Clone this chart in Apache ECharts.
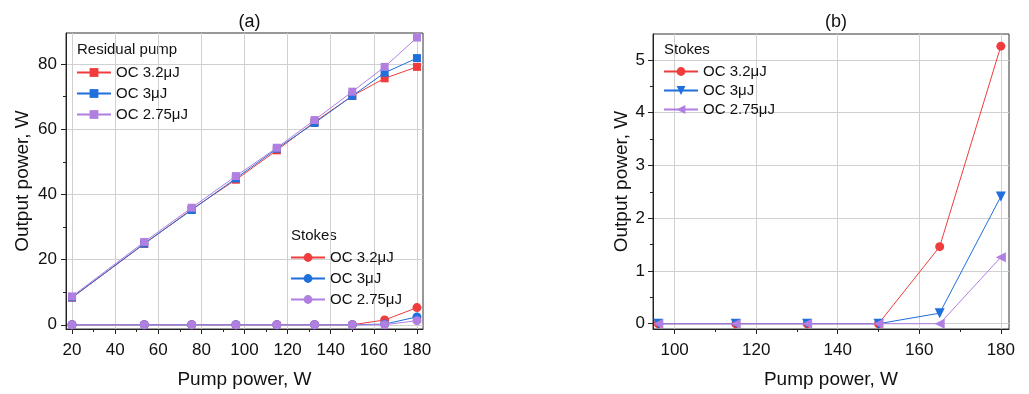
<!DOCTYPE html>
<html>
<head>
<meta charset="utf-8">
<script src="https://cdn.jsdelivr.net/npm/echarts@6/dist/echarts.min.js"></script>
<style>
html,body{margin:0;padding:0;background:#fff;}
#c{width:1029px;height:394px;}
</style>
</head>
<body>
<div id="c"></div>
<script>
// ---- data ----
const pumpX = [20, 53.5, 75.5, 96, 115, 132.5, 150, 165, 180];
const residual32 = [8.3, 24.8, 35.4, 44.5, 53.5, 62.2, 70.2, 75.6, 79.1];
const residual3 = [8.4, 24.9, 35.2, 44.9, 54.0, 61.9, 70.2, 77.3, 81.8];
const residual275 = [8.7, 25.4, 35.9, 45.6, 54.3, 62.8, 71.5, 79.1, 88.1];
const stokes32 = [0, 0, 0, 0, 0, 0, 0, 1.46, 5.26];
const stokes3 = [0, 0, 0, 0, 0, 0, 0, 0.2, 2.41];
const stokes275 = [0, 0, 0, 0, 0, 0, 0, 0, 1.26];
const pumpXb = [96, 115, 132.5, 150, 165, 180];
const stokesB32 = [0, 0, 0, 0, 1.46, 5.26];
const stokesB3 = [0, 0, 0, 0, 0.2, 2.41];
const stokesB275 = [0, 0, 0, 0, 0, 1.26];
const seriesLabels = ['OC 3.2\u03bcJ', 'OC 3\u03bcJ', 'OC 2.75\u03bcJ'];
const panelTitles = ['(a)', '(b)'];
const legendHeaders = ['Residual pump', 'Stokes'];
const xTicksA = [20, 40, 60, 80, 100, 120, 140, 160, 180];
const xMinorA = [30, 50, 70, 90, 110, 130, 150, 170];
const yTicksA = [0, 20, 40, 60, 80];
const yMinorA = [10, 30, 50, 70];
const xTicksB = [100, 120, 140, 160, 180];
const xMinorB = [110, 130, 150, 170];
const yTicksB = [0, 1, 2, 3, 4, 5];
const yMinorB = [0.5, 1.5, 2.5, 3.5, 4.5];
const xAxisTitle = 'Pump power, W';
const yAxisTitle = 'Output power, W';

const colors = ['#f03c3c', '#1f6fdc', '#b07fe0'];
const FONT = 'Liberation Sans, Arial, sans-serif';

function zip(xs, ys) { return xs.map((x, i) => [x, ys[i]]); }

const nameMap = {
  rp0: seriesLabels[0], rp1: seriesLabels[1], rp2: seriesLabels[2],
  sa0: seriesLabels[0], sa1: seriesLabels[1], sa2: seriesLabels[2],
  sb0: seriesLabels[0], sb1: seriesLabels[1], sb2: seriesLabels[2]
};

function mainX(grid, min, max, ticks) {
  return {
    gridIndex: grid, type: 'value', min: min, max: max, position: 'bottom',
    name: xAxisTitle, nameLocation: 'middle', nameGap: 41,
    nameTextStyle: { fontSize: 19, fontFamily: FONT, color: '#111' },
    axisLine: { show: true, onZero: false, lineStyle: { color: '#222', width: 1 } },
    axisTick: { show: true, inside: false, length: 5, customValues: ticks, lineStyle: { color: '#222' } },
    axisLabel: { show: true, customValues: ticks, margin: 13, fontSize: 17, fontFamily: FONT, color: '#111' },
    splitLine: { show: true, lineStyle: { color: '#d0d0d0', width: 1 } },
    minorTick: { show: false }
  };
}
function minorX(grid, min, max, ticks) {
  return {
    gridIndex: grid, type: 'value', min: min, max: max, position: 'bottom',
    axisLine: { show: false, onZero: false }, axisLabel: { show: false }, splitLine: { show: false },
    axisTick: { show: true, length: 3, customValues: ticks, lineStyle: { color: '#222' } }
  };
}
function mainY(grid, min, max, ticks, gap, margin) {
  return {
    gridIndex: grid, type: 'value', min: min, max: max, position: 'left',
    name: yAxisTitle, nameLocation: 'middle', nameGap: gap,
    nameTextStyle: { fontSize: 19, fontFamily: FONT, color: '#111' },
    axisLine: { show: true, onZero: false, lineStyle: { color: '#222', width: 1 } },
    axisTick: { show: true, length: 5, customValues: ticks, lineStyle: { color: '#222' } },
    axisLabel: { show: true, customValues: ticks, margin: margin, fontSize: 17, fontFamily: FONT, color: '#111' },
    splitLine: { show: true, lineStyle: { color: '#d0d0d0', width: 1 } }
  };
}
function minorY(grid, min, max, ticks) {
  return {
    gridIndex: grid, type: 'value', min: min, max: max, position: 'left',
    axisLine: { show: false, onZero: false }, axisLabel: { show: false }, splitLine: { show: false },
    axisTick: { show: true, length: 3, customValues: ticks, lineStyle: { color: '#222' } }
  };
}
function lineSeries(name, xi, yi, data, color, symbol, size, rotate, z) {
  return {
    name: name, type: 'line', xAxisIndex: xi, yAxisIndex: yi, data: data,
    symbol: symbol, symbolSize: size, symbolRotate: rotate || 0, clip: false,
    lineStyle: { color: color, width: 1 }, itemStyle: { color: color, borderWidth: 0 },
    z: z, animation: false
  };
}
function legend(names, left, top, gap) {
  return {
    data: names, left: left, top: top, orient: 'vertical', padding: 0,
    itemWidth: 34, itemHeight: 11, itemGap: gap, selectedMode: false,
    formatter: n => nameMap[n],
    textStyle: { fontSize: 15, fontFamily: FONT, color: '#111' }
  };
}

const chart = echarts.init(document.getElementById('c'), null, { renderer: 'canvas' });
chart.setOption({
  backgroundColor: '#fff',
  animation: false,
  title: [
    { text: panelTitles[0], left: 244.5, top: 8, textAlign: 'center', textStyle: { fontSize: 18, fontWeight: 'normal', fontFamily: FONT, color: '#111' } },
    { text: panelTitles[1], left: 831, top: 8, textAlign: 'center', textStyle: { fontSize: 18, fontWeight: 'normal', fontFamily: FONT, color: '#111' } }
  ],
  grid: [
    { left: 66, right: 606, top: 33, bottom: 63, show: true, borderColor: '#333', borderWidth: 1, containLabel: false },
    { left: 653, right: 20, top: 34, bottom: 63, show: true, borderColor: '#333', borderWidth: 1, containLabel: false }
  ],
  xAxis: [
    mainX(0, 17.2, 182.8, xTicksA),
    minorX(0, 17.2, 182.8, xMinorA),
    mainX(1, 94.7, 182, xTicksB),
    minorX(1, 94.7, 182, xMinorB)
  ],
  yAxis: [
    mainY(0, -1.3, 89.5, yTicksA, 34, 9),
    minorY(0, -1.3, 89.5, yMinorA),
    mainY(1, -0.1, 5.49, yTicksB, 22, 8),
    minorY(1, -0.1, 5.49, yMinorB)
  ],
  legend: [
    legend(['rp0', 'rp1', 'rp2'], 76, 65, 6),
    legend(['sa0', 'sa1', 'sa2'], 290, 250, 6),
    legend(['sb0', 'sb1', 'sb2'], 663, 64, 4)
  ],
  graphic: [
    { type: 'text', left: 77, top: 42, style: { text: legendHeaders[0], fontSize: 15, fontFamily: FONT, fill: '#111' } },
    { type: 'text', left: 291, top: 228, style: { text: legendHeaders[1], fontSize: 15, fontFamily: FONT, fill: '#111' } },
    { type: 'text', left: 664, top: 42, style: { text: legendHeaders[1], fontSize: 15, fontFamily: FONT, fill: '#111' } }
  ],
  series: [
    lineSeries('rp0', 0, 0, zip(pumpX, residual32), colors[0], 'rect', 8, 0, 2),
    lineSeries('rp1', 0, 0, zip(pumpX, residual3), colors[1], 'rect', 8, 0, 3),
    lineSeries('rp2', 0, 0, zip(pumpX, residual275), colors[2], 'rect', 8, 0, 4),
    lineSeries('sa0', 0, 0, zip(pumpX, stokes32), colors[0], 'circle', 9, 0, 5),
    lineSeries('sa1', 0, 0, zip(pumpX, stokes3), colors[1], 'circle', 9, 0, 6),
    lineSeries('sa2', 0, 0, zip(pumpX, stokes275), colors[2], 'circle', 9, 0, 7),
    lineSeries('sb0', 2, 2, zip(pumpXb, stokesB32), colors[0], 'circle', 9, 0, 5),
    lineSeries('sb1', 2, 2, zip(pumpXb, stokesB3), colors[1], 'triangle', 10, 180, 6),
    lineSeries('sb2', 2, 2, zip(pumpXb, stokesB275), colors[2], 'triangle', 10, 90, 7)
  ]
});
</script>
</body>
</html>
